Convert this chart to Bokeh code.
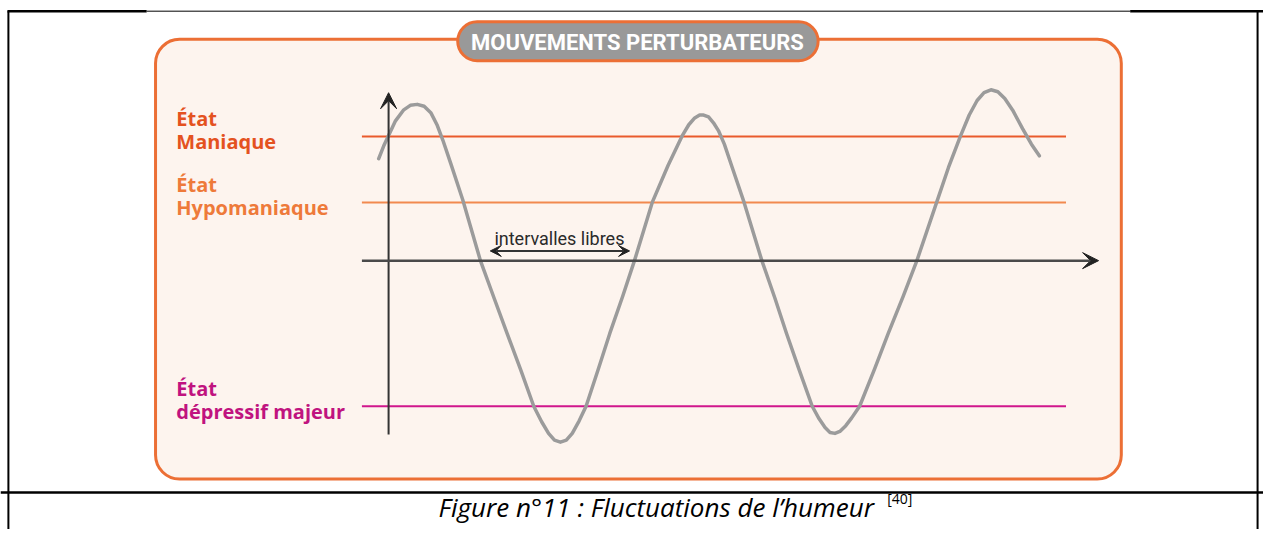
from bokeh.plotting import figure
from bokeh.models import Range1d, BoxAnnotation, Arrow, VeeHead
from bokeh.core.properties import value
from bokeh.embed import file_html
from bokeh.resources import INLINE

# ---------------- data (time vs. mood, arbitrary units) ----------------
time = [-10, -5, 0, 7, 15, 22, 29, 36, 43, 49, 55, 63, 75, 93, 107, 120, 134, 147,
        155, 162, 168, 174, 180, 186, 193, 200, 212, 224, 237, 249, 267, 283, 297,
        304, 310, 315, 319, 324, 329, 334, 340, 348, 360, 378, 391, 403, 416, 429,
        436, 442, 447, 452, 457, 463, 469, 477, 492, 506, 521, 535, 555, 567, 579,
        588, 596, 603, 610, 617, 624, 632, 642, 651, 659]
mood = [105, 118, 129, 144, 155, 160, 161, 159, 152, 140, 124, 100, 63, 0, -39, -75,
        -113, -150, -166, -178, -185, -187, -185, -178, -165, -150, -113, -75, -37,
        0, 60, 98, 128, 140, 147, 150, 150, 148, 142, 134, 120, 96, 60, 0, -38, -75,
        -113, -150, -163, -172, -177, -178, -176, -170, -162, -150, -112, -75, -37,
        0, 60, 96, 128, 150, 165, 173, 176, 174, 167, 155, 136, 120, 108]

level_top = ["État", "État", "État"]
level_bottom = ["Maniaque", "Hypomaniaque", "dépressif majeur"]
level_values = [128, 60, -150]
level_text_colors = ["#E4521F", "#EE7A3A", "#C0137F"]
level_line_colors = ["#E95A2C", "#F2894F", "#D0168C"]

title_text = "MOUVEMENTS PERTURBATEURS"
interval_label = "intervalles libres"
caption = "Figure n°11 : Fluctuations de l’humeur"
caption_ref = "[40]"

# ---------------- figure ----------------
p = figure(width=1263, height=529, x_range=Range1d(-393, 886), y_range=Range1d(-277, 268),
           x_axis_type=None, y_axis_type=None, toolbar_location=None,
           output_backend="svg", min_border=0)
p.grid.visible = False
p.outline_line_color = None
p.background_fill_color = "white"

# page frame lines (table borders)
p.segment(x0=[-385, 880], y0=[257, 257], x1=[-385, 880], y1=[-277, -277],
          line_color="black", line_width=2)
p.segment(x0=[-386, 751], y0=[257, 257], x1=[-245, 886], y1=[257, 257],
          line_color="black", line_width=2.5)
p.segment(x0=[-245], y0=[257], x1=[751], y1=[257], line_color="black", line_width=1)
p.segment(x0=[-393], y0=[-239], x1=[886], y1=[-239], line_color="black", line_width=2.5)

# orange rounded panel
panel = BoxAnnotation(left=-236, right=742, top=228, bottom=-225, border_radius=24,
                      fill_color="#FDF4EE", fill_alpha=1, line_color="#EC6F35",
                      line_alpha=1, line_width=3, level="underlay")
p.add_layout(panel)
pill = BoxAnnotation(left=70, right=435, top=246, bottom=206, border_radius=20,
                     fill_color="#999999", fill_alpha=1, line_color="#EC6F35",
                     line_alpha=1, line_width=3, level="underlay")
p.add_layout(pill)
p.text(x=[252], y=[225], text=[title_text], text_font=value("Roboto"),
       text_font_style="bold", text_font_size="22px", text_color="white",
       text_align="center", text_baseline="middle")

# level lines
p.segment(x0=[-27] * 3, x1=[686] * 3, y0=level_values, y1=level_values,
          line_color=level_line_colors, line_width=2)

# level labels
p.text(x=[-215] * 3, y=[v + 18 for v in level_values], text=level_top,
       text_font=value("Open Sans"), text_font_style="bold", text_font_size="20px",
       text_color=level_text_colors, text_baseline="alphabetic")
p.text(x=[-215] * 3, y=[v - 5 for v in level_values], text=level_bottom,
       text_font=value("Open Sans"), text_font_style="bold", text_font_size="20px",
       text_color=level_text_colors, text_baseline="alphabetic")

# axes with arrow heads
p.add_layout(Arrow(end=VeeHead(size=16, fill_color="#222222", line_color="#222222"),
                   x_start=0, y_start=-179, x_end=0, y_end=173,
                   line_color="#333333", line_width=2))
p.add_layout(Arrow(end=VeeHead(size=16, fill_color="#222222", line_color="#222222"),
                   x_start=-27, y_start=0, x_end=719, y_end=0,
                   line_color="#4a4a4a", line_width=2.5))

# mood curve
p.line(time, mood, line_color="#9B9B9B", line_width=3.5, line_join="round",
       line_cap="round")

# "intervalles libres"
p.add_layout(Arrow(start=VeeHead(size=11, fill_color="#222222", line_color="#222222"),
                   end=VeeHead(size=11, fill_color="#222222", line_color="#222222"),
                   x_start=103, y_start=10, x_end=244, y_end=10,
                   line_color="#333333", line_width=2))
p.text(x=[173], y=[23], text=[interval_label], text_font=value("Roboto"),
       text_font_size="18px", text_color="#2a2a2a", text_align="center",
       text_baseline="alphabetic")

# caption
p.text(x=[271], y=[-254], text=[caption], text_font=value("Open Sans"),
       text_font_style="italic", text_font_size="26px", text_color="black",
       text_align="center", text_baseline="alphabetic")
p.text(x=[505], y=[-245], text=[caption_ref], text_font=value("Open Sans"),
       text_font_size="14px", text_color="black", text_baseline="alphabetic")

open("out.html", "w").write(file_html(p, INLINE))
